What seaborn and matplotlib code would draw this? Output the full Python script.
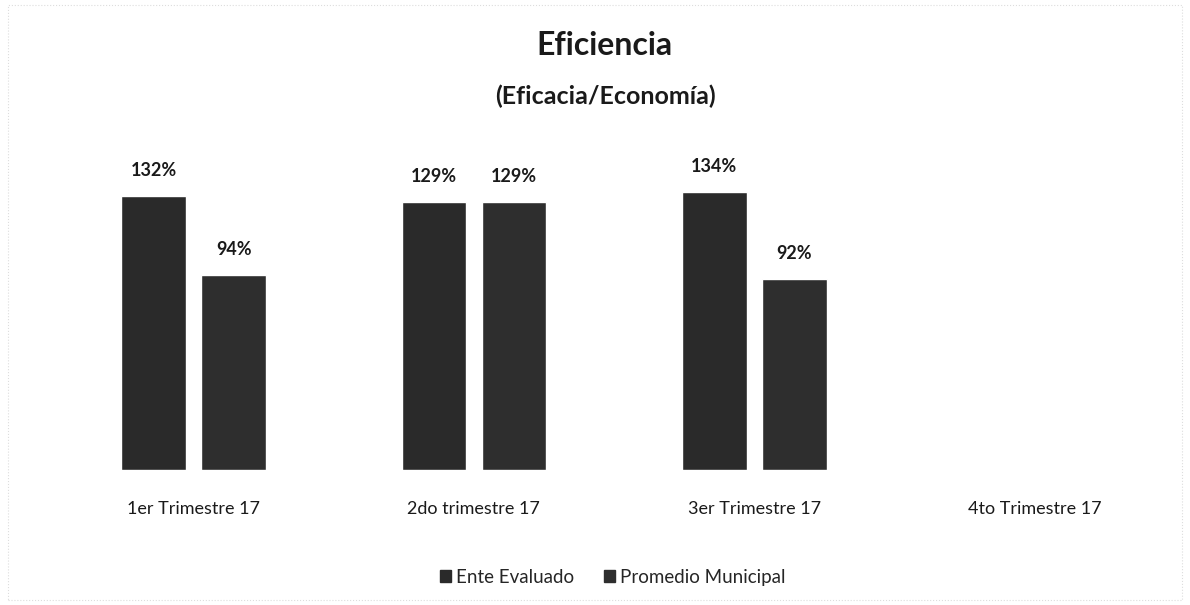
import numpy as np
import pandas as pd
import seaborn as sns
import matplotlib.pyplot as plt
from matplotlib.patches import Rectangle

trimestres = ["1er Trimestre 17", "2do trimestre 17", "3er Trimestre 17", "4to Trimestre 17"]
ente_evaluado = [1.32, 1.29, 1.34, np.nan]
promedio_municipal = [0.94, 1.29, 0.92, np.nan]
series = ["Ente Evaluado", "Promedio Municipal"]

df = pd.DataFrame({
    "trimestre": trimestres * 2,
    "serie": [series[0]] * 4 + [series[1]] * 4,
    "valor": ente_evaluado + promedio_municipal,
})

sns.set_style("white")
plt.rcParams["font.family"] = ["Lato", "DejaVu Sans"]

fig = plt.figure(figsize=(11.9, 6.05), dpi=100)
ax = fig.add_axes([0.045, 0.223, 0.942, 0.529])

palette = {series[0]: "#2a2a2a", series[1]: "#2e2e2e"}
sns.barplot(data=df, x="trimestre", y="valor", hue="serie", order=trimestres,
            hue_order=series, palette=palette, width=0.571, gap=0.19,
            errorbar=None, saturation=1, ax=ax, legend=False)

for cont in ax.containers:
    labels = ["" if np.isnan(v) else f"{v * 100:.0f}%" for v in cont.datavalues]
    ax.bar_label(cont, labels=labels, padding=12, fontsize=13, fontweight="bold",
                 color="#1a1a1a")

ax.set_xlim(-0.5, 3.5)
ax.set_ylim(0, 1.54)
ax.set_yticks([])
ax.set_xlabel("")
ax.set_ylabel("")
ax.tick_params(axis="x", length=0, pad=22, labelsize=13, colors="#1a1a1a")
sns.despine(ax=ax, left=True, bottom=True)

fig.text(0.508, 0.925, "Eficiencia", ha="center", va="center", fontsize=23,
         fontweight="bold", color="#1a1a1a")
fig.text(0.509, 0.840, "(Eficacia/Economía)", ha="center", va="center",
         fontsize=18, fontweight="bold", color="#1a1a1a")

handles = [Rectangle((0, 0), 1, 1, color=palette[s]) for s in series]
fig.legend(handles, series, loc="center", bbox_to_anchor=(0.515, 0.046), ncol=2,
           frameon=False, fontsize=13.5, handlelength=0.6, handleheight=0.6,
           handletextpad=0.25, columnspacing=1.6)

fig.patches.append(Rectangle((0.007, 0.008), 0.986, 0.984, transform=fig.transFigure,
                             fill=False, edgecolor="#dddddd", linestyle=":", lw=0.8))

fig.savefig("out.png", dpi=100, facecolor="white")
